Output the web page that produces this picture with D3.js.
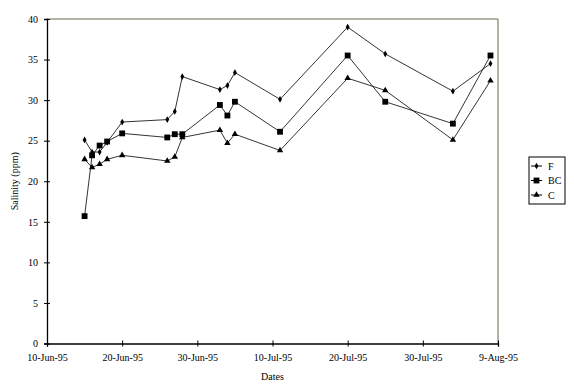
<!DOCTYPE html>
<html>
<head>
<meta charset="utf-8">
<script src="https://cdn.jsdelivr.net/npm/d3@7"></script>
<style>
  body { margin: 0; background: #fff; }
  svg text { font-family: "Liberation Serif", "DejaVu Serif", serif !important; font-size: 10px; fill: #000; }
</style>
</head>
<body>
<div id="chart"></div>
<script>
// ====================== Data ======================
const dates = ["1995-06-15", "1995-06-16", "1995-06-17", "1995-06-18", "1995-06-20",
  "1995-06-26", "1995-06-27", "1995-06-28", "1995-07-03", "1995-07-04", "1995-07-05",
  "1995-07-11", "1995-07-20", "1995-07-25", "1995-08-03", "1995-08-08"];

const seriesF  = [25.1, 23.6, 23.6, 24.8, 27.3, 27.6, 28.6, 32.9, 31.3, 31.8, 33.4, 30.1, 39.0, 35.7, 31.1, 34.5];
const seriesBC = [15.7, 23.2, 24.4, 24.9, 25.9, 25.4, 25.8, 25.8, 29.4, 28.1, 29.8, 26.1, 35.5, 29.8, 27.1, 35.5];
const seriesC  = [22.7, 21.7, 22.1, 22.7, 23.2, 22.5, 23.0, 25.4, 26.3, 24.7, 25.8, 23.8, 32.7, 31.2, 25.1, 32.4];

const seriesNames = ["F", "BC", "C"];
const xTicks = ["1995-06-10", "1995-06-20", "1995-06-30", "1995-07-10", "1995-07-20", "1995-07-30", "1995-08-09"];
const yTicks = [0, 5, 10, 15, 20, 25, 30, 35, 40];

// ====================== Chart ======================
const w = 574;
const h = 392;
const plotLeft = 47, plotRight = 498, plotTop = 19, plotBottom = 343.5;

const parse = d3.timeParse("%Y-%m-%d");

const xScale = d3.scaleTime()
  .domain([parse(xTicks[0]), parse(xTicks[xTicks.length - 1])])
  .range([plotLeft, plotRight]);

const yScale = d3.scaleLinear()
  .domain([0, 40])
  .range([plotBottom, plotTop]);

const svg = d3.select("#chart").append("svg")
  .attr("width", w)
  .attr("height", h);

// plot border (top and right)
svg.append("path")
  .attr("d", `M${plotLeft},${plotTop}H${plotRight}V${plotBottom}`)
  .attr("fill", "none")
  .attr("stroke", "#6b6b4f")
  .attr("stroke-width", 1);

// axes
const yAxis = svg.append("g")
  .attr("transform", `translate(${plotLeft},0)`)
  .call(d3.axisLeft(yScale).tickValues(yTicks).tickSize(3).tickPadding(6));

const xAxis = svg.append("g")
  .attr("transform", `translate(0,${plotBottom})`)
  .call(d3.axisBottom(xScale)
    .tickValues(xTicks.map(parse))
    .tickFormat(d3.timeFormat("%-d-%b-%y"))
    .tickSize(3).tickPadding(7));

[yAxis, xAxis].forEach(ax => {
  ax.attr("font-family", null).attr("font-size", null);
  ax.select(".domain").attr("stroke", "#000").attr("stroke-width", 1.3);
});

// ticks cross the axis line
yAxis.selectAll(".tick line").attr("x1", 3).attr("x2", -3);
xAxis.selectAll(".tick line").attr("y1", -3).attr("y2", 3);

// axis titles
svg.append("text")
  .attr("x", (plotLeft + plotRight) / 2)
  .attr("y", 380)
  .attr("text-anchor", "middle")
  .text("Dates");

svg.append("text")
  .attr("transform", `translate(18,${(plotTop + plotBottom) / 2}) rotate(-90)`)
  .attr("text-anchor", "middle")
  .text("Salinity (ppm)");

// ====================== Series ======================
const series = [
  { name: seriesNames[0], values: seriesF,  symbol: d3.symbolDiamond,  size: 13 },
  { name: seriesNames[1], values: seriesBC, symbol: d3.symbolSquare,   size: 34 },
  { name: seriesNames[2], values: seriesC,  symbol: d3.symbolTriangle, size: 18 }
];

const line = d3.line()
  .x((d, i) => xScale(parse(dates[i])))
  .y(d => yScale(d));

series.forEach(s => {
  svg.append("path")
    .attr("d", line(s.values))
    .attr("fill", "none")
    .attr("stroke", "#000")
    .attr("stroke-width", 0.8);

  svg.append("g").selectAll("path")
    .data(s.values)
    .join("path")
    .attr("transform", (d, i) => `translate(${xScale(parse(dates[i]))},${yScale(d)})`)
    .attr("d", d3.symbol().type(s.symbol).size(s.size))
    .attr("fill", "#000");
});

// ====================== Legend ======================
const legend = svg.append("g").attr("transform", "translate(529,157)");

legend.append("rect")
  .attr("width", 36)
  .attr("height", 47)
  .attr("fill", "#fff")
  .attr("stroke", "#000")
  .attr("stroke-width", 1);

series.forEach((s, i) => {
  const y = 9 + i * 14.5;
  legend.append("line")
    .attr("x1", 2).attr("x2", 13)
    .attr("y1", y).attr("y2", y)
    .attr("stroke", "#000");
  legend.append("path")
    .attr("transform", `translate(7.5,${y})`)
    .attr("d", d3.symbol().type(s.symbol).size(s.size))
    .attr("fill", "#000");
  legend.append("text")
    .attr("x", 19)
    .attr("y", y)
    .attr("dy", "0.35em")
    .text(s.name);
});
</script>
</body>
</html>
